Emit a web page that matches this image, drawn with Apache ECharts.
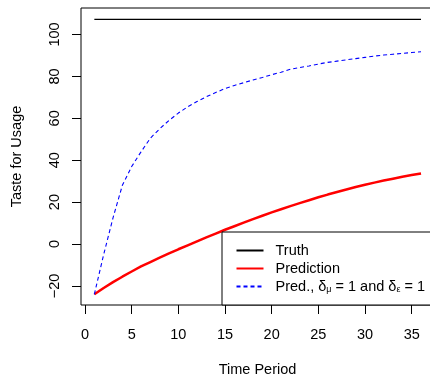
<!DOCTYPE html>
<html>
<head>
<meta charset="utf-8">
<script src="https://cdn.jsdelivr.net/npm/echarts@6/dist/echarts.min.js"></script>
<style>html,body{margin:0;padding:0;background:#fff}#c{width:430px;height:376px}</style>
</head>
<body>
<div id="c"></div>
<script>
const periods = [1,2,3,4,5,6,7,8,9,10,11,12,13,14,15,16,17,18,19,20,21,22,23,24,25,26,27,28,29,30,31,32,33,34,35,36];
const truth = [107.2,107.2,107.2,107.2,107.2,107.2,107.2,107.2,107.2,107.2,107.2,107.2,107.2,107.2,107.2,107.2,107.2,107.2,107.2,107.2,107.2,107.2,107.2,107.2,107.2,107.2,107.2,107.2,107.2,107.2,107.2,107.2,107.2,107.2,107.2,107.2];
const prediction = [-24,-21.0,-18.2,-15.6,-13.1,-10.7,-8.6,-6.5,-4.5,-2.5,-0.6,1.3,3.2,5.0,6.8,8.5,10.2,11.9,13.5,15.1,16.6,18.1,19.5,20.9,22.3,23.6,24.8,26.0,27.2,28.3,29.3,30.3,31.2,32.1,32.9,33.7];
const predDelta = [-24,-5,12.5,28,37,44,50.5,55,59,62.5,65.5,68,70.3,72.3,74.2,75.7,77,78.3,79.5,80.8,82,83.4,84.2,85,85.9,86.7,87.3,87.9,88.5,89.1,89.7,90.2,90.6,91,91.4,91.8];
const xTicks = [0,5,10,15,20,25,30,35];
const yTicks = [-20,0,20,40,60,80,100];
const seriesNames = ['Truth','Prediction','Pred.'];

const pairs = arr => periods.map((p,i)=>[p,arr[i]]);
const FONT = 'Liberation Sans';
const chart = echarts.init(document.getElementById('c'), null, {renderer:'canvas'});
chart.setOption({
  animation:false,
  textStyle:{fontFamily:FONT},
  grid:{left:81,top:8,width:353,height:297,show:true,borderColor:'#000',borderWidth:1,backgroundColor:'transparent',
    containLabel:false,outerBoundsMode:'none'},
  xAxis:{type:'value',min:-0.43,max:37.39,
    name:'Time Period',nameLocation:'middle',nameGap:57,
    nameTextStyle:{fontSize:14.5,color:'#000',fontFamily:FONT},
    axisLine:{show:false,onZero:false},splitLine:{show:false},
    axisTick:{show:true,length:9,customValues:xTicks,lineStyle:{color:'#000'}},
    axisLabel:{customValues:xTicks,margin:22,fontSize:14.5,color:'#000',fontFamily:FONT}},
  yAxis:{type:'value',min:-29.1,max:112.65,
    name:'Taste for Usage',nameLocation:'middle',nameGap:57,
    nameTextStyle:{fontSize:14.5,color:'#000',fontFamily:FONT},
    axisLine:{show:false,onZero:false},splitLine:{show:false},
    axisTick:{show:true,length:9,customValues:yTicks,lineStyle:{color:'#000'}},
    axisLabel:{customValues:yTicks,rotate:90,margin:19,fontSize:14.5,color:'#000',fontFamily:FONT,
      formatter:v=> (v<0? '\u2212'+Math.abs(v) : String(v))}},
  legend:{orient:'vertical',left:222,top:232,padding:[11,60,11,13.5],
    borderColor:'#000',borderWidth:1,backgroundColor:'#fff',
    itemWidth:27,itemHeight:14,itemGap:3,
    itemStyle:{opacity:0},
    data:seriesNames,
    formatter:n=> n==='Pred.' ? 'Pred., {d|δ}{s|μ}{n| = 1 and }{d|δ}{s|ε}{n| = 1}' : n,
    textStyle:{fontSize:14.5,color:'#000',fontFamily:FONT,padding:[0,0,0,7],
      rich:{d:{fontSize:14.5,fontFamily:FONT,color:'#000'},
            s:{fontSize:9,fontFamily:FONT,color:'#000',verticalAlign:'bottom',padding:[6,0,0,0]},
            n:{fontSize:14.5,fontFamily:FONT,color:'#000'}}}},
  series:[
    {name:'Truth',type:'line',data:pairs(truth),symbol:'none',lineStyle:{color:'#000',width:1.2},itemStyle:{color:'#000'}},
    {name:'Prediction',type:'line',data:pairs(prediction),symbol:'none',lineStyle:{color:'#ff0000',width:2.5},itemStyle:{color:'#ff0000'}},
    {name:'Pred.',type:'line',data:pairs(predDelta),symbol:'none',lineStyle:{color:'#0000ff',width:1.1,type:[4,3]},itemStyle:{color:'#0000ff'}}
  ]
});
</script>
</body>
</html>
